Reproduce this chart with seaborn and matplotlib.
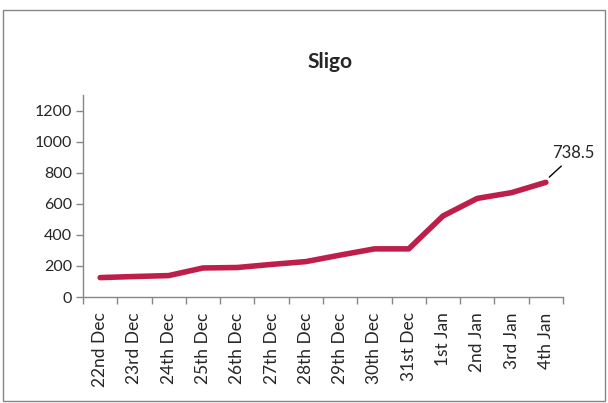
import seaborn as sns
import matplotlib.pyplot as plt
import matplotlib.patches as patches
import pandas as pd, numpy as np

## ____data
dates = ["22nd Dec", "23rd Dec", "24th Dec", "25th Dec", "26th Dec", "27th Dec",
         "28th Dec", "29th Dec", "30th Dec", "31st Dec", "1st Jan", "2nd Jan",
         "3rd Jan", "4th Jan"]
cases = [125, 132, 138, 187, 190, 210, 228, 270, 310, 310, 522, 635, 672, 738.5]

df = pd.DataFrame({"date": dates, "cases": cases})

## ____style
sns.set_theme(style="white")
plt.rcParams["font.family"] = ["Lato", "DejaVu Sans"]

fig = plt.figure(figsize=(6.08, 4.03), dpi=100)
ax = fig.add_axes([0.1365, 0.263, 0.7895, 0.501])

xpos = np.arange(len(dates))
sns.lineplot(x=xpos, y=df["cases"], ax=ax, color="#BE1E4A", linewidth=4,
             solid_capstyle="round", solid_joinstyle="round")

ax.set_xlim(-0.5, len(dates) - 0.5)
ax.set_ylim(0, 1300)
ax.set_yticks(range(0, 1201, 200))
ax.set_xticks(xpos)
ax.set_xticklabels(dates, rotation=90, fontsize=12.5)
ax.set_xticks(np.arange(-0.5, len(dates)), minor=True)
ax.tick_params(axis="x", which="major", length=0, pad=11)
ax.tick_params(axis="x", which="minor", length=5, width=1, color="#868686",
               direction="out", bottom=True)
ax.tick_params(axis="y", length=5, width=1, color="#868686", direction="out",
               left=True, labelsize=11.5, pad=3)
ax.set_xlabel("")
ax.set_ylabel("")

for s in ["top", "right"]:
    ax.spines[s].set_visible(False)
for s in ["left", "bottom"]:
    ax.spines[s].set_color("#868686")
    ax.spines[s].set_linewidth(1)

## label on last point
n = len(dates) - 1
ax.plot([n + 0.1, n + 0.45], [772, 843], color="black", lw=1, clip_on=False)
ax.text(n + 0.8, 927, "738.5", fontsize=12, ha="center", va="center",
        clip_on=False)

fig.suptitle("Sligo", x=0.543, y=0.87, fontsize=15, fontweight="bold")

## outer frame
fig.patches.append(patches.Rectangle((0.005, 0.005), 0.99, 0.97,
                                     transform=fig.transFigure, fill=False,
                                     edgecolor="#868686", linewidth=1))

plt.savefig("out.png", dpi=100)
